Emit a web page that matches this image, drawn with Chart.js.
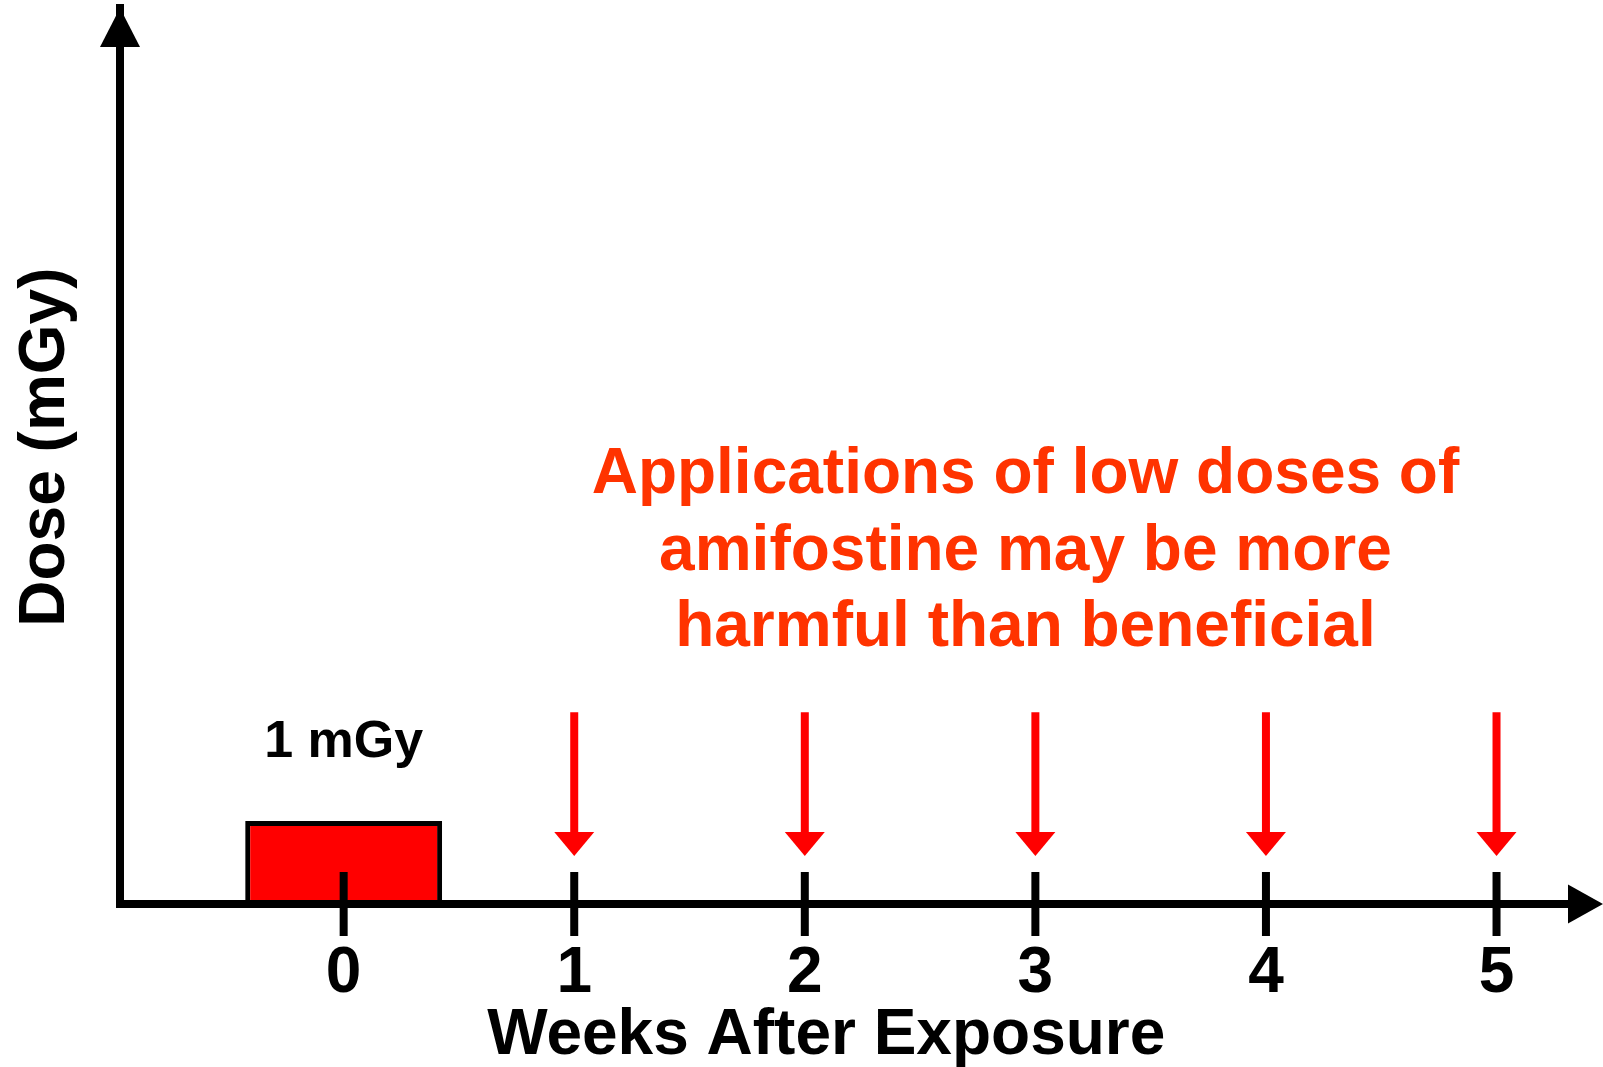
<!DOCTYPE html>
<html>
<head>
<meta charset="utf-8">
<script src="https://cdn.jsdelivr.net/npm/chart.js@4/dist/chart.umd.min.js"></script>
<style>
  html, body { margin: 0; padding: 0; background: #fff; }
  #wrap { width: 1603px; height: 1067px; position: relative; }
</style>
</head>
<body>
<div id="wrap"><canvas id="dose"></canvas></div>
<script>
// data
const weeks = [0, 1, 2, 3, 4, 5];
const weekLabels = ['0', '1', '2', '3', '4', '5'];
const exposureWeeks = [0];
const exposureDoses = [1];            // mGy
const exposureLabels = ['1 mGy'];
const amifostineWeeks = [1, 2, 3, 4, 5];
const noteLines = ['Applications of low doses of', 'amifostine may be more', 'harmful than beneficial'];

const FONT = '"Liberation Sans", Arial, Helvetica, sans-serif';

// arrows, ticks, arrowheads and text notes, placed through the scales
const sketch = {
  id: 'sketch',
  afterDraw(chart) {
    const ctx = chart.ctx;
    const x = chart.scales.x, y = chart.scales.y;
    const a = chart.chartArea;
    ctx.save();

    // axis corner + arrowheads
    ctx.fillStyle = '#000';
    ctx.fillRect(a.left - 4, a.bottom - 4, 8, 8);
    ctx.beginPath();
    ctx.moveTo(a.left, a.top);
    ctx.lineTo(a.left - 20, a.top + 39);
    ctx.lineTo(a.left + 20, a.top + 39);
    ctx.closePath();
    ctx.fill();
    ctx.beginPath();
    ctx.moveTo(a.right + 35, a.bottom);
    ctx.lineTo(a.right, a.bottom - 19.5);
    ctx.lineTo(a.right, a.bottom + 19.5);
    ctx.closePath();
    ctx.fill();

    // ticks crossing the x axis
    ctx.strokeStyle = '#000';
    ctx.lineWidth = 8;
    x.ticks.forEach(t => {
      const px = x.getPixelForValue(t.value);
      ctx.beginPath();
      ctx.moveTo(px, a.bottom - 32);
      ctx.lineTo(px, a.bottom + 32);
      ctx.stroke();
    });

    // red arrows at each amifostine week
    ctx.strokeStyle = '#ff0000';
    ctx.fillStyle = '#ff0000';
    amifostineWeeks.forEach(w => {
      const px = x.getPixelForValue(w);
      const top = y.getPixelForValue(2.31);
      const tip = y.getPixelForValue(0.58);
      ctx.lineWidth = 8;
      ctx.beginPath();
      ctx.moveTo(px, top);
      ctx.lineTo(px, tip - 22);
      ctx.stroke();
      ctx.beginPath();
      ctx.moveTo(px, tip);
      ctx.lineTo(px - 20, tip - 24);
      ctx.lineTo(px + 20, tip - 24);
      ctx.closePath();
      ctx.fill();
    });

    // dose label above the exposure bar
    ctx.fillStyle = '#000';
    ctx.textAlign = 'center';
    ctx.textBaseline = 'alphabetic';
    ctx.font = 'bold 52px ' + FONT;
    exposureWeeks.forEach((w, i) => {
      ctx.fillText(exposureLabels[i], x.getPixelForValue(w), y.getPixelForValue(1.77));
    });

    // note
    ctx.fillStyle = '#ff3300';
    ctx.font = 'bold 64px ' + FONT;
    const nx = x.getPixelForValue(2.957);
    const ny = y.getPixelForValue(4.95);
    noteLines.forEach((s, i) => ctx.fillText(s, nx, ny + i * 76.5));

    ctx.restore();
  }
};

new Chart(document.getElementById('dose'), {
  type: 'bar',
  data: {
    datasets: [{
      label: 'Exposure',
      data: exposureWeeks.map((w, i) => ({ x: w, y: exposureDoses[i] })),
      backgroundColor: '#ff0000',
      borderColor: '#000',
      borderWidth: 5,
      categoryPercentage: 1,
      barPercentage: 0.854
    }]
  },
  options: {
    responsive: true,
    maintainAspectRatio: false,
    animation: false,
    layout: { padding: { top: 8, right: 35, bottom: 0, left: 0 } },
    plugins: { legend: { display: false }, tooltip: { enabled: false } },
    scales: {
      x: {
        type: 'linear',
        min: -0.97,
        max: 5.31,
        offset: false,
        afterBuildTicks: s => { s.ticks = weeks.map(v => ({ value: v })); },
        grid: { display: false, drawTicks: false },
        border: { display: true, color: '#000', width: 8, z: 1 },
        ticks: {
          padding: 38,
          color: '#000',
          font: { family: FONT, size: 64, weight: 'bold', lineHeight: 1 },
          maxRotation: 0,
          autoSkip: false,
          callback: (v, i) => weekLabels[i]
        },
        title: {
          display: true,
          text: 'Weeks After Exposure  ',
          color: '#000',
          font: { family: FONT, size: 64, weight: 'bold', lineHeight: 1 },
          padding: { top: -40, bottom: -1 }
        }
      },
      y: {
        min: 0,
        max: 10.8,
        grid: { display: false, drawTicks: false },
        border: { display: true, color: '#000', width: 8 },
        ticks: { display: false },
        title: {
          display: true,
          text: ' Dose (mGy)',
          color: '#000',
          font: { family: FONT, size: 64, weight: 'bold', lineHeight: 1.2 },
          padding: { top: 8, bottom: 35.2 }
        }
      }
    }
  },
  plugins: [sketch]
});
</script>
</body>
</html>
